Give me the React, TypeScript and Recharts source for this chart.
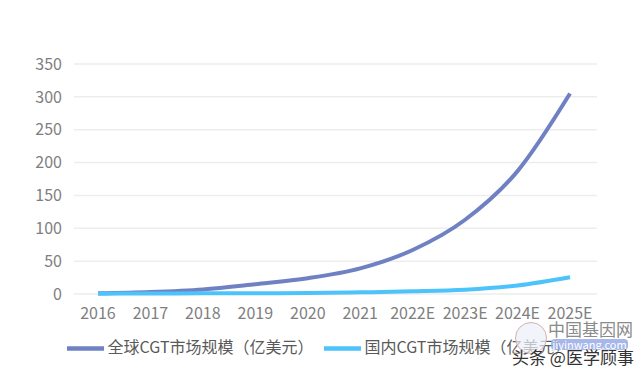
import { LineChart, Line, XAxis, YAxis, CartesianGrid, Legend } from 'recharts';

// 年份
const years = ['2016', '2017', '2018', '2019', '2020', '2021', '2022E', '2023E', '2024E', '2025E'];
// 全球CGT市场规模（亿美元）
const globalValues = [1, 3, 7, 15, 24, 39, 67, 113, 187, 305];
// 国内CGT市场规模
const domesticValues = [0.5, 0.8, 1, 1.2, 1.5, 2.5, 4, 6.5, 13, 25.5];
const yTicks = [0, 50, 100, 150, 200, 250, 300, 350];

const GLOBAL_NAME = '全球CGT市场规模（亿美元）';
const DOMESTIC_NAME = '国内CGT市场规模（亿美元）';

const chartData = years.map((year, i) => ({
  year,
  global: globalValues[i],
  domestic: domesticValues[i],
}));

const FONT = '"Noto Sans CJK SC", "Noto Sans", sans-serif';

export default function App() {
  return (
    <div style={{ position: 'absolute', left: 0, top: 0, width: 640, height: 375, background: '#fff', fontFamily: FONT, overflow: 'hidden' }}>
      <LineChart width={640} height={375} data={chartData} margin={{ top: 64, right: 43, left: 0, bottom: 8 }}>
        <CartesianGrid vertical={false} stroke="#ededed" strokeWidth={1.5} />
        <XAxis
          dataKey="year"
          axisLine={false}
          tickLine={false}
          tickSize={0}
          tickMargin={14}
          height={36}
          interval={0}
          padding={{ left: 24, right: 27 }}
          tick={{ fontSize: 16, fill: '#7f7f7f', fontFamily: FONT }}
        />
        <YAxis
          domain={[0, 350]}
          ticks={yTicks}
          axisLine={false}
          tickLine={false}
          tickSize={0}
          tickMargin={12}
          width={74}
          tick={{ fontSize: 16, fill: '#7f7f7f', fontFamily: FONT }}
        />
        <Legend
          verticalAlign="bottom"
          iconType="plainline"
          iconSize={37}
          wrapperStyle={{ left: 25, fontSize: 16, fontFamily: FONT, color: '#595959' }}
          formatter={(value) => <span style={{ color: '#595959' }}>{value}</span>}
        />
        <Line
          type="monotone"
          dataKey="global"
          name={GLOBAL_NAME}
          stroke="#6f80c3"
          strokeWidth={4}
          dot={false}
          isAnimationActive={false}
        />
        <Line
          type="monotone"
          dataKey="domestic"
          name={DOMESTIC_NAME}
          stroke="#4cc3fa"
          strokeWidth={4}
          dot={false}
          isAnimationActive={false}
        />
      </LineChart>
      {/* 水印 */}
      <div style={{ position: 'absolute', left: 515, top: 322, width: 30, height: 30, borderRadius: 16, border: '1px solid #d9b0b0', background: 'rgba(235,240,250,0.7)' }} />
      <div style={{ position: 'absolute', left: 548, top: 318, fontSize: 17, color: '#8a8a8a', fontFamily: FONT, lineHeight: '22px', whiteSpace: 'nowrap' }}>中国基因网</div>
      <div style={{ position: 'absolute', left: 551, top: 339, width: 77, height: 11, fontSize: 11, color: '#ffffff', background: 'rgba(150,170,230,0.85)', borderRadius: 4, textAlign: 'center', fontFamily: FONT, lineHeight: '11px', whiteSpace: 'nowrap' }}>jiyinwang.com</div>
      <div style={{ position: 'absolute', left: 512, top: 346, fontSize: 17, color: '#333', fontFamily: FONT, lineHeight: '22px', whiteSpace: 'nowrap', textShadow: '0 0 2px #fff, 0 0 2px #fff' }}>头条 @医学顾事</div>
    </div>
  );
}
